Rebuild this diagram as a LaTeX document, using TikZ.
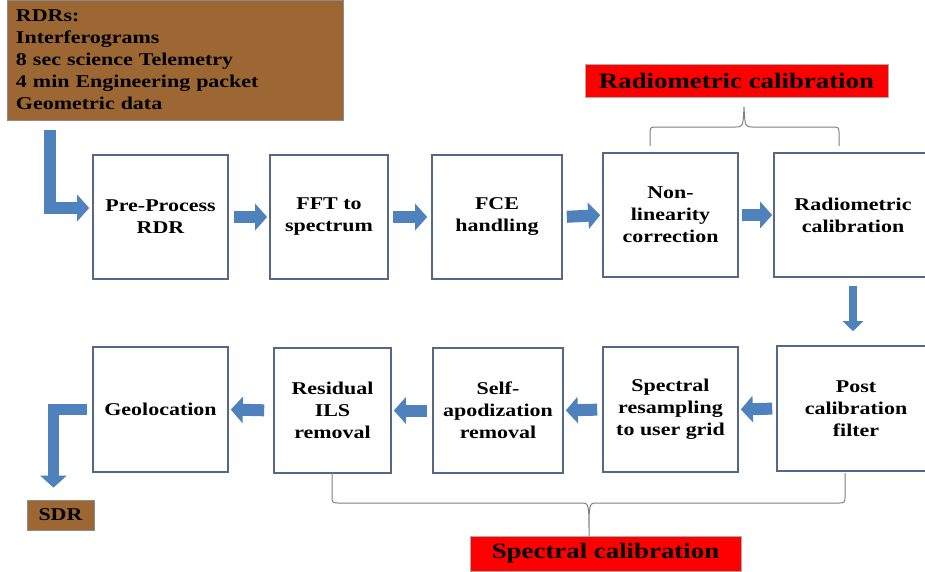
\documentclass[tikz,border=0pt]{standalone}
\usepackage{fontspec}
\setmainfont{Liberation Serif}[FakeStretch=1.22]
\usetikzlibrary{arrows.meta,calc}

\begin{document}
\begin{tikzpicture}[x=1pt,y=1pt,yscale=-1,xscale=1,
  procbox/.style={draw={rgb,255:red,85;green,105;blue,135},line width=1.6pt,fill=white,
    minimum height=124pt,align=center,inner sep=2pt,
    font=\fontsize{18}{22}\selectfont\bfseries},
  brownbox/.style={draw={rgb,255:red,140;green,140;blue,140},line width=0.8pt,
    fill={rgb,255:red,157;green,103;blue,52},font=\fontsize{18}{22}\selectfont\bfseries},
  redbox/.style={draw={rgb,255:red,170;green,170;blue,170},line width=0.6pt,fill=red,
    font=\fontsize{22}{26}\selectfont\bfseries},
  fatarrow/.style={draw={rgb,255:red,79;green,129;blue,189},line width=12pt,
    -{Triangle[length=12pt,width=26pt]}},
  thinarrow/.style={draw={rgb,255:red,79;green,129;blue,189},line width=8pt,
    -{Triangle[length=10pt,width=20pt]}},
  bracket/.style={draw={rgb,255:red,128;green,128;blue,128},line width=1pt}]
\path[use as bounding box,clip] (0,0) rectangle (925,571);

% Text Node
\node[brownbox,minimum width=336pt,minimum height=120pt,text width=318pt,inner sep=9pt,align=left] (rdr) at (175,60)
  {RDRs:\\Interferograms\\8 sec science Telemetry\\4 min Engineering packet\\Geometric data};
% Text Node
\node[brownbox,minimum width=67pt,minimum height=30pt,inner sep=0pt] (sdr) at (60.5,515) {SDR};

% Top row
\node[procbox,minimum width=135pt] (pre) at (160.5,217) {Pre-Process\\RDR};
\node[procbox,minimum width=118pt] (fft) at (329,217) {FFT to\\spectrum};
\node[procbox,minimum width=130pt] (fce) at (497,217) {FCE\\handling};
\node[procbox,minimum width=135pt] (nonlin) at (670.5,215) {Non-\\linearity\\correction};
\node[procbox,minimum width=158pt] (rad) at (853,215) {Radiometric\\calibration};

% Bottom row
\node[procbox,minimum width=158pt,minimum height=125pt] (post) at (856,408.5) {Post\\calibration\\filter};
\node[procbox,minimum width=135pt,minimum height=125pt] (resamp) at (670.5,409.5) {Spectral\\resampling\\to user grid};
\node[procbox,minimum width=130pt,minimum height=125pt] (selfapo) at (498,410.5) {Self-\\apodization\\removal};
\node[procbox,minimum width=117pt,minimum height=125pt] (resid) at (332.5,410.5) {Residual\\ILS\\removal};
\node[procbox,minimum width=135pt,minimum height=125pt] (geo) at (160.5,409.5) {Geolocation};

% Labels
\node[redbox,minimum width=303pt,minimum height=33pt,inner sep=0pt] (radlabel) at (736.5,80.5) {Radiometric calibration};
\node[redbox,minimum width=271pt,minimum height=35pt,inner sep=0pt] (speclabel) at (605.5,553.5) {Spectral calibration};

%Block Arrows
\draw[fatarrow,shorten <=10pt,shorten >=3pt] ($(rdr.south west)+(43,0)$) |- ($(pre.west)+(0,-9)$);
\draw[fatarrow,shorten <=5pt,shorten >=2pt] (pre.east) -- (fft.west);
\draw[fatarrow,shorten <=4pt,shorten >=4pt] (fft.east) -- (fce.west);
\draw[fatarrow,shorten <=4pt,shorten >=2pt] (fce.east) -- (nonlin.west);
\draw[fatarrow,shorten <=3pt,shorten >=1pt] (nonlin.east) -- (rad.west);
\coordinate (dbot) at (rad.south |- post.north);
\draw[thinarrow,shorten <=8pt,shorten >=14pt] (rad.south) -- (dbot);
\draw[fatarrow,shorten <=4pt,shorten >=2pt] (post.west) -- (resamp.east);
\draw[fatarrow,shorten <=5pt,shorten >=2pt] (resamp.west) -- (selfapo.east);
\draw[fatarrow,shorten <=5pt,shorten >=2pt] (selfapo.west) -- (resid.east);
\draw[fatarrow,shorten <=9pt,shorten >=2pt] (resid.west) -- (geo.east);
\draw[fatarrow,line width=11pt,shorten <=5pt,shorten >=12pt] (geo.west) -| ($(sdr.north)+(-7,0)$);

%Braces
\draw[bracket] (650,146) -- (650,134) .. controls (650,127) .. (658,127) -- (735,127) .. controls (743,127) .. (744,107)
  .. controls (745,127) .. (753,127) -- (831,127) .. controls (839,127) .. (839,134) -- (839,146);
\draw[bracket] (332,473) -- (332,496) .. controls (332,503) .. (340,503) -- (581,503) .. controls (589,503) .. (589,536)
  .. controls (589,503) .. (597,503) -- (837,503) .. controls (845,503) .. (845,496) -- (845,473);

\end{tikzpicture}
\end{document}
